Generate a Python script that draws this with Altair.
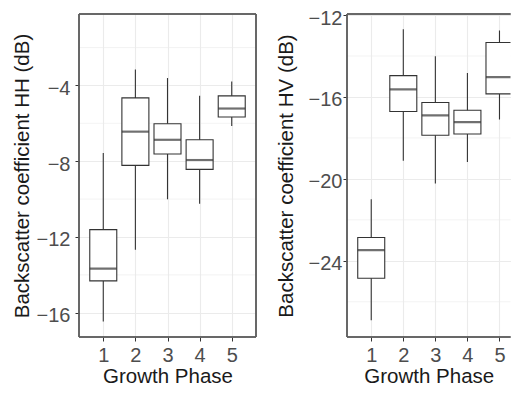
import altair as alt
import pandas as pd

phases = [1, 2, 3, 4, 5]

hh_min = [-16.46, -12.68, -10.01, -10.24, -6.14]
hh_q1 = [-14.32, -8.22, -7.62, -8.43, -5.67]
hh_med = [-13.67, -6.44, -6.87, -7.94, -5.22]
hh_q3 = [-11.61, -4.66, -6.02, -6.87, -4.55]
hh_max = [-7.57, -3.16, -3.61, -4.55, -3.79]

hv_min = [-26.90, -19.11, -20.22, -19.17, -17.10]
hv_q1 = [-24.85, -16.71, -17.87, -17.81, -15.85]
hv_med = [-23.48, -15.63, -16.90, -17.23, -15.03]
hv_q3 = [-22.86, -14.96, -16.27, -16.65, -13.34]
hv_max = [-21.00, -12.70, -14.01, -14.83, -12.76]

hh_major = [-4, -8, -12, -16]
hh_minor = [-2, -6, -10, -14]
hv_major = [-12, -16, -20, -24]
hv_minor = [-14, -18, -22, -26]

FONT = "Liberation Sans"
LINE = "#333333"
FRAME = "#5e5e5e"
GRID = "#EBEBEB"
BOXW = 27
H = 323


def panel(mins, q1s, meds, q3s, maxs, major, minor, ydomain, xmax, ytitle,
          width, lab_pad, title_pad, open_right=False):
    df = pd.DataFrame({"phase": phases, "lo": mins, "q1": q1s, "med": meds,
                       "q3": q3s, "hi": maxs})
    xsc = alt.Scale(domain=[0.4, xmax], nice=False, zero=False)
    ysc = alt.Scale(domain=ydomain, nice=False, zero=False)
    xax = alt.Axis(values=phases, format="d", title="Growth Phase", grid=True,
                   labelPadding=4, titlePadding=1)
    yax = alt.Axis(values=major, title=ytitle, grid=True,
                   labelPadding=lab_pad, titlePadding=title_pad, labelOffset=3)
    base = alt.Chart(df)
    minor_df = pd.DataFrame({"v": minor})
    mgrid = alt.Chart(minor_df).mark_rule(color=GRID, strokeWidth=0.6).encode(
        y=alt.Y("v:Q", scale=ysc, axis=yax)
    )
    whisk = base.mark_rule(color=LINE, strokeWidth=1.1, clip=True).encode(
        x=alt.X("phase:Q", scale=xsc, axis=xax),
        y=alt.Y("lo:Q", scale=ysc, axis=yax),
        y2="hi:Q",
    )
    box = base.mark_bar(fill="white", stroke=LINE, strokeWidth=1.1, size=BOXW,
                        clip=True).encode(
        x=alt.X("phase:Q", scale=xsc),
        y=alt.Y("q1:Q", scale=ysc),
        y2="q3:Q",
    )
    med = base.mark_tick(orient="horizontal", color=LINE, size=BOXW, thickness=2.2,
                         clip=True).encode(
        x=alt.X("phase:Q", scale=xsc),
        y=alt.Y("med:Q", scale=ysc),
    )
    frame = alt.Chart(minor_df)
    edges = [
        frame.mark_rule(color=FRAME, strokeWidth=1).encode(
            x=alt.value(0), y=alt.value(0), y2=alt.value(H)),
        frame.mark_rule(color=FRAME, strokeWidth=1).encode(
            y=alt.value(0), x=alt.value(0), x2=alt.value(width)),
        frame.mark_rule(color=FRAME, strokeWidth=1).encode(
            y=alt.value(H), x=alt.value(0), x2=alt.value(width)),
    ]
    if not open_right:
        edges.append(frame.mark_rule(color=FRAME, strokeWidth=1).encode(
            x=alt.value(width), y=alt.value(0), y2=alt.value(H)))
    return alt.layer(mgrid, whisk, box, med, *edges).properties(width=width, height=H)


left = panel(hh_min, hh_q1, hh_med, hh_q3, hh_max, hh_major, hh_minor,
             [-17.28, -0.23], 5.6, "Backscatter coefficient HH (dB)", 177, 5, 3.5)
right = panel(hv_min, hv_q1, hv_med, hv_q3, hv_max, hv_major, hv_minor,
              [-27.72, -11.95], 0.4 + 163.5 / 34.15,
              "Backscatter coefficient HV (dB)", 163.5, 1, 12, open_right=True)

chart = alt.hconcat(left, right, spacing=19).properties(
    padding={"left": 4, "top": 0, "right": 0, "bottom": 0}
).configure_view(
    stroke="transparent", strokeWidth=0
).configure_axis(
    domain=False,
    tickColor=LINE,
    tickSize=4,
    tickWidth=1,
    gridColor=GRID,
    gridWidth=1.1,
    labelColor="#4D4D4D",
    labelFont=FONT,
    labelFontSize=20,
    titleFont=FONT,
    titleFontSize=20.5,
    titleFontWeight="normal",
    titleColor="#1a1a1a",
)

chart.save("out.html", embed_options={"renderer": "svg", "actions": False})
